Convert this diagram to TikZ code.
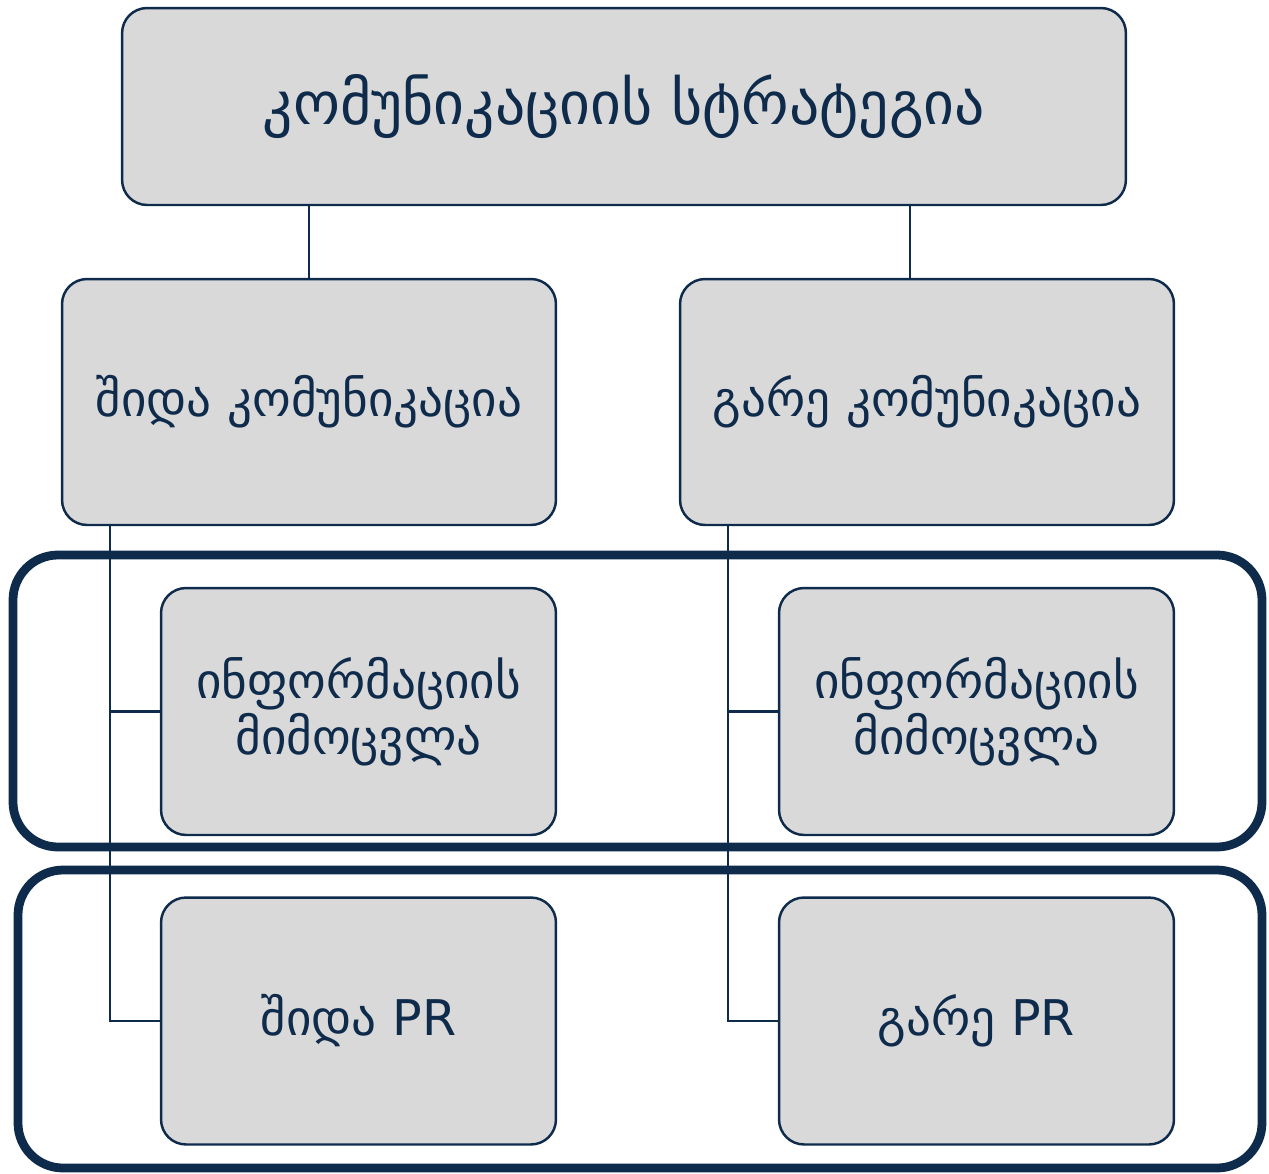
\documentclass[tikz,border=0pt]{standalone}
\usepackage{fontspec}
\setmainfont{DejaVu Sans}
\usetikzlibrary{calc}
\definecolor{navy}{HTML}{0F2B4C}
\definecolor{boxgray}{HTML}{D9D9D9}

\begin{document}
\begin{tikzpicture}[x=0.02cm, y=-0.02cm,
    box/.style={draw=navy, fill=boxgray, line width=1.4pt, rounded corners=0.5cm,
                text=navy, align=center, inner sep=0pt},
    wide/.style={minimum width=9.88cm, minimum height=4.92cm, font=\fontsize{28}{32}\selectfont},
    small/.style={minimum width=7.9cm, minimum height=4.94cm, font=\fontsize{28}{32}\selectfont},
    link/.style={draw=navy, line width=1.4pt},
    group/.style={draw=navy, line width=5pt, rounded corners=0.9cm}]
  \useasboundingbox (0,0) rectangle (1269,1174);

  % draw grouping frames
  \draw[group] (13,555) rectangle (1262,847);
  \draw[group] (18,870) rectangle (1262,1168);

  % draw top box
  \node[box, minimum width=20.08cm, minimum height=3.94cm, font=\fontsize{34}{40}\selectfont]
    (strategy) at (624,106.5) {კომუნიკაციის სტრატეგია};

  % draw internal / external boxes
  \node[box, wide] (internal) at (309,402) {შიდა კომუნიკაცია};
  \node[box, wide] (external) at (927,402) {გარე კომუნიკაცია};

  % draw leaf boxes
  \node[box, small] (intinfo) at (358.5,711.5) {ინფორმაციის\\მიმოცვლა};
  \node[box, small] (intpr)   at (358.5,1021)  {შიდა PR};
  \node[box, small] (extinfo) at (976.5,711.5) {ინფორმაციის\\მიმოცვლა};
  \node[box, small] (extpr)   at (976.5,1021)  {გარე PR};

  % draw links
  \coordinate (exttap) at ([xshift=-0.34cm]external.north);
  \draw[link] (internal.north) -- (internal.north |- strategy.south);
  \draw[link] (exttap) -- (exttap |- strategy.south);

  \coordinate (introot) at ([xshift=0.98cm]internal.south west);
  \coordinate (extroot) at ([xshift=0.98cm]external.south west);
  \draw[link] (introot) |- (intinfo.west);
  \draw[link] (introot) |- (intpr.west);
  \draw[link] (extroot) |- (extinfo.west);
  \draw[link] (extroot) |- (extpr.west);
\end{tikzpicture}
\end{document}
